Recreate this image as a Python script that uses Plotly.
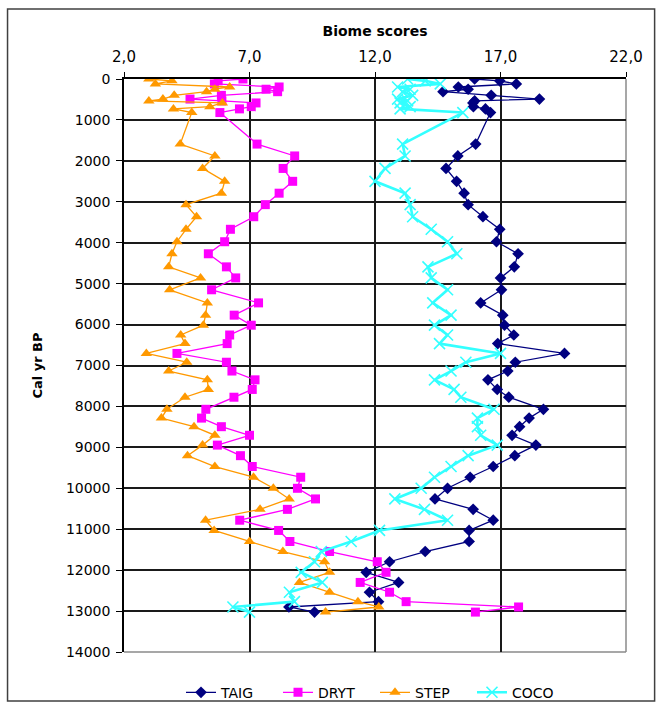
import plotly.graph_objects as go

# Sample ages (cal yr BP) shared by all four biome score series
age_bp = [0, 45, 120, 195, 250, 310, 400, 490, 535, 585, 675, 730, 820,
          1590, 1880, 2185, 2500, 2790, 3070, 3365, 3672, 3976, 4270,
          4590, 4860, 5150, 5470, 5770, 6015, 6255, 6465, 6705, 6920,
          7135, 7350, 7585, 7775, 8070, 8285, 8495, 8705, 8945, 9203,
          9468, 9730, 10000, 10260, 10515, 10780, 11030, 11300, 11545,
          11795, 12053, 12300, 12540, 12770, 12900, 13025]

taig = [15.97, 16.97, 17.63, 15.32, 15.71, 14.71, 16.63, 18.55, 15.97, 15.9,
        15.92, 16.4, 16.6,
        16.01, 15.3, 14.83, 15.25, 15.55, 15.71, 16.3, 16.97, 16.84, 17.7,
        17.55, 17.0, 17.04, 16.21, 17.09, 17.16, 17.53, 16.89, 19.55, 17.59,
        17.29, 16.5, 16.87, 17.33, 18.71, 18.14, 17.76, 17.46, 18.41, 17.57,
        16.71, 15.79, 14.89, 14.39, 15.91, 16.71, 15.75, 15.75, 14.0,
        12.58, 11.65, 12.94, 11.78, 12.14, 8.57, 9.59]

dryt = [6.74, 5.75, 5.6, 8.18, 7.66, 8.12, 5.88, 4.63, 5.9, 7.26,
        7.07, 6.6, 5.82,
        7.3, 8.8, 8.34, 8.72, 8.18, 7.63, 7.17, 6.24, 6.01, 5.36,
        6.08, 6.45, 5.49, 7.36, 6.39, 7.07, 6.21, 6.11, 4.11, 6.08,
        6.3, 7.22, 7.11, 6.38, 5.26, 5.09, 5.88, 7.0, 5.72, 6.64,
        7.11, 9.04, 8.91, 9.63, 8.51, 6.61, 8.16, 8.61, 10.19,
        12.09, 12.44, 11.41, 12.58, 13.24, 17.72, 16.0]

step = [2.99, 3.91, 3.25, 6.21, 5.62, 5.29, 4.0, 3.55, 2.99, 5.92,
        5.42, 3.97, 4.7,
        4.24, 5.62, 5.13, 6.01, 5.88, 4.47, 4.89, 4.47, 4.11, 3.91,
        3.78, 5.05, 3.82, 5.32, 5.25, 5.16, 4.26, 4.43, 2.89, 4.5,
        3.78, 5.32, 5.36, 4.43, 3.71, 3.49, 4.79, 5.62, 5.13, 4.53,
        5.62, 7.16, 7.95, 8.58, 7.42, 5.25, 5.59, 7.0, 8.33,
        9.99, 10.19, 8.99, 10.19, 11.32, 12.15, 10.03]

coco = [13.3, 14.0, 14.6, 12.9, 13.4, 13.1, 13.5, 12.9, 13.3, 13.0,
        13.4, 13.0, 15.5,
        13.1, 13.2, 12.4, 12.0, 13.2, 13.4, 13.5, 14.24, 14.89, 15.26,
        14.11, 14.24, 14.89, 14.3, 15.03, 14.37, 14.89, 14.57, 17.0, 15.62,
        15.03, 14.37, 15.15, 15.42, 16.74, 16.08, 16.08, 16.21, 16.87, 15.71,
        15.03, 14.37, 13.84, 12.79, 13.97, 14.89, 12.18, 11.05, 9.86,
        9.59, 9.06, 9.9, 8.59, 8.79, 6.34, 7.0]

x_ticks = [2, 7, 12, 17, 22]
x_tick_text = ["2,0", "7,0", "12,0", "17,0", "22,0"]
y_ticks = list(range(0, 14001, 1000))

FONT = "DejaVu Sans, Liberation Sans, Arial, sans-serif"

series = [
    ("TAIG", taig, "#000080", dict(symbol="diamond", size=9), 1.3),
    ("DRYT", dryt, "#FF00FF", dict(symbol="square", size=9), 1.3),
    ("STEP", step, "#FF9900", dict(symbol="triangle-up", size=10), 1.3),
    ("COCO", coco, "#33FFFF", dict(symbol="x-thin", size=11,
                                   line=dict(width=1.6, color="#33FFFF")), 2.6),
]

fig = go.Figure()
for name, vals, color, marker, lw in series:
    m = dict(color=color)
    m.update(marker)
    fig.add_trace(go.Scatter(
        x=vals, y=age_bp, name=name, mode="lines+markers",
        line=dict(color=color, width=lw), marker=m,
    ))

fig.update_layout(
    width=663, height=709,
    margin=dict(l=124, r=37, t=79, b=57, autoexpand=False),
    paper_bgcolor="white", plot_bgcolor="white",
    font=dict(family=FONT, color="black", size=14),
    showlegend=True,
    legend=dict(orientation="h", x=0.5, xanchor="center",
                y=-0.071, yanchor="middle", font=dict(size=14),
                entrywidth=52, bgcolor="rgba(0,0,0,0)"),
    xaxis=dict(
        side="top", range=[2, 22], tickvals=x_ticks, ticktext=x_tick_text,
        showgrid=True, gridcolor="#1a1a1a", gridwidth=1.5,
        showline=True, linecolor="black", linewidth=1.5,
        ticks="outside", ticklen=5, tickcolor="black",
        ticklabelstandoff=4,
        zeroline=False, tickfont=dict(size=15),
        title=dict(text="<b>Biome scores</b>", font=dict(size=14), standoff=8),
    ),
    yaxis=dict(
        range=[14000, 0], tickvals=y_ticks, tickformat="d",
        showgrid=True, gridcolor="#1a1a1a", gridwidth=1.5,
        showline=True, linecolor="black", linewidth=1.5,
        ticks="outside", ticklen=6, tickcolor="black",
        ticklabelstandoff=3,
        zeroline=False, tickfont=dict(size=14),
        title=dict(text="<b>Cal yr BP</b>", font=dict(size=13), standoff=20),
    ),
    shapes=[
        # right and bottom edges of the plot area
        dict(type="line", xref="paper", yref="paper", x0=1, x1=1, y0=0, y1=1,
             line=dict(color="#8a8a8a", width=1.5), layer="between"),
        dict(type="line", xref="paper", yref="paper", x0=0, x1=1, y0=0, y1=0,
             line=dict(color="#8a8a8a", width=1.5), layer="between"),
        # outer chart frame
        dict(type="rect", xref="paper", yref="paper",
             x0=-0.232, x1=1.057, y0=-0.0855, y1=1.122,
             line=dict(color="#404040", width=1.5), layer="above"),
    ],
)

fig.write_html("out.html")
